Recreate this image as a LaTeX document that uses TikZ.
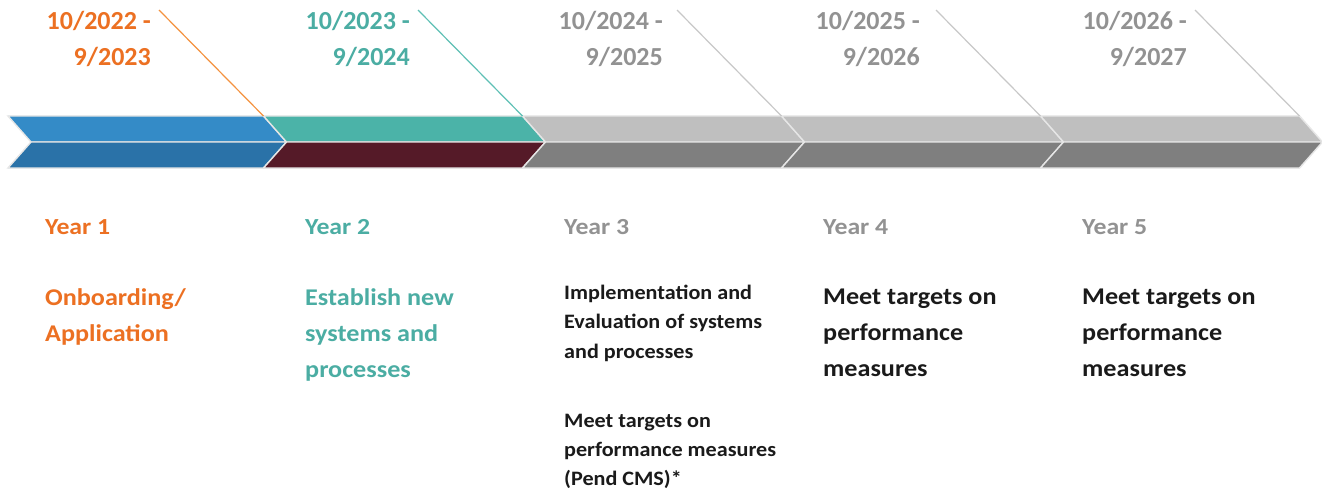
\documentclass[tikz,border=0pt]{standalone}
\usepackage{fontspec}
\setmainfont{Carlito}
\newfontfamily\yearfont[FakeStretch=1.12]{Carlito}
\newfontfamily\bodyfont[FakeStretch=1.09]{Carlito}
\newfontfamily\smallbodyfont[FakeStretch=1.08]{Carlito}
\definecolor{blueT}{HTML}{348BC7}
\definecolor{blueB}{HTML}{2A72A8}
\definecolor{tealT}{HTML}{4BB3A8}
\definecolor{maroonB}{HTML}{551A28}
\definecolor{grayT}{HTML}{BFBFBF}
\definecolor{grayB}{HTML}{7F7F7F}
\definecolor{sepc}{HTML}{E6E6E6}
\definecolor{orTxt}{HTML}{EC7022}
\definecolor{orLine}{HTML}{F4923F}
\definecolor{teTxt}{HTML}{4BADA3}
\definecolor{teLine}{HTML}{5EC0B5}
\definecolor{grTxt}{HTML}{929292}
\definecolor{grLine}{HTML}{C8C8C8}
\definecolor{bodyTxt}{HTML}{1A1A1A}
\begin{document}
\begin{tikzpicture}[x=1pt,y=-1pt,
  seg/.style={draw=sepc,line width=1.4pt,line join=miter},
  diag/.style={line width=1.2pt},
  datelbl/.style={anchor=base east,inner sep=0pt,font=\bfseries\fontsize{26}{36}\selectfont},
  yearlbl/.style={anchor=base west,inner sep=0pt,font=\yearfont\bfseries\fontsize{23}{28}\selectfont},
  bodylbl/.style={anchor=base west,inner sep=0pt},
]
\useasboundingbox (0,0) rectangle (1322,492);
\fill[white] (0,0) rectangle (1322,492);
% chevrons
\foreach \k/\ct/\cb in {0/blueT/blueB,1/tealT/maroonB,2/grayT/grayB,3/grayT/grayB,4/grayT/grayB}{
  \pgfmathsetmacro\R{263.5+259*\k}
  \pgfmathsetmacro\L{ifthenelse(\k==0,8,\R-259)}
  \filldraw[seg,fill=\ct] (\L,116) -- (\R,116) -- (\R+23,142) -- (\L+23,142) -- cycle;
  \filldraw[seg,fill=\cb] (\L+23,142) -- (\R+23,142) -- (\R,168) -- (\L,168) -- cycle;
}
% diagonal lines
\foreach \k/\lc in {0/orLine,1/teLine,2/grLine,3/grLine,4/grLine}{
  \pgfmathsetmacro\R{263.5+259*\k}
  \coordinate (lt\k) at (\R-104.5,10);
  \coordinate (lb\k) at (\R,116);
  \draw[diag,\lc] (lt\k) -- (lb\k);
}
% dates
\node[datelbl,text=orTxt] (d1) at (151,30) {\parbox[t]{150pt}{\raggedleft 10/2022 -\\9/2023}};
\node[datelbl,text=teTxt] (d2) at (410,30) {\parbox[t]{150pt}{\raggedleft 10/2023 -\\9/2024}};
\node[datelbl,text=grTxt] (d3) at (663,30) {\parbox[t]{150pt}{\raggedleft 10/2024 -\\9/2025}};
\node[datelbl,text=grTxt] (d4) at (920,30) {\parbox[t]{150pt}{\raggedleft 10/2025 -\\9/2026}};
\node[datelbl,text=grTxt] (d5) at (1187,30) {\parbox[t]{150pt}{\raggedleft 10/2026 -\\9/2027}};
% years
\node[yearlbl,text=orTxt] (y1) at (45,234) {Year 1};
\node[yearlbl,text=teTxt] (y2) at (305,234) {Year 2};
\node[yearlbl,text=grTxt] (y3) at (564,234) {Year 3};
\node[yearlbl,text=grTxt] (y4) at (823,234) {Year 4};
\node[yearlbl,text=grTxt] (y5) at (1082,234) {Year 5};
% bodies
\node[bodylbl,text=orTxt] (b1) at (45,305) {\parbox[t]{240pt}{\raggedright\bodyfont\bfseries\fontsize{24}{36}\selectfont Onboarding/\\Application}};
\node[bodylbl,text=teTxt] (b2) at (305,305) {\parbox[t]{240pt}{\raggedright\bodyfont\bfseries\fontsize{24}{36}\selectfont Establish new\\systems and\\processes}};
\node[bodylbl,text=bodyTxt] (b3) at (564,299.5) {\parbox[t]{250pt}{\raggedright\smallbodyfont\bfseries\fontsize{20.5}{29.3}\selectfont Implementation and\\Evaluation of systems\\and processes}};
\node[bodylbl,text=bodyTxt] (b3b) at (564,427) {\parbox[t]{250pt}{\raggedright\smallbodyfont\bfseries\fontsize{20.5}{29.3}\selectfont Meet targets on\\performance measures\\(Pend CMS)*}};
\node[bodylbl,text=bodyTxt] (b4) at (823,304) {\parbox[t]{240pt}{\raggedright\bodyfont\bfseries\fontsize{24}{36}\selectfont Meet targets on\\performance\\measures}};
\node[bodylbl,text=bodyTxt] (b5) at (1082,304) {\parbox[t]{240pt}{\raggedright\bodyfont\bfseries\fontsize{24}{36}\selectfont Meet targets on\\performance\\measures}};
\end{tikzpicture}
\end{document}
